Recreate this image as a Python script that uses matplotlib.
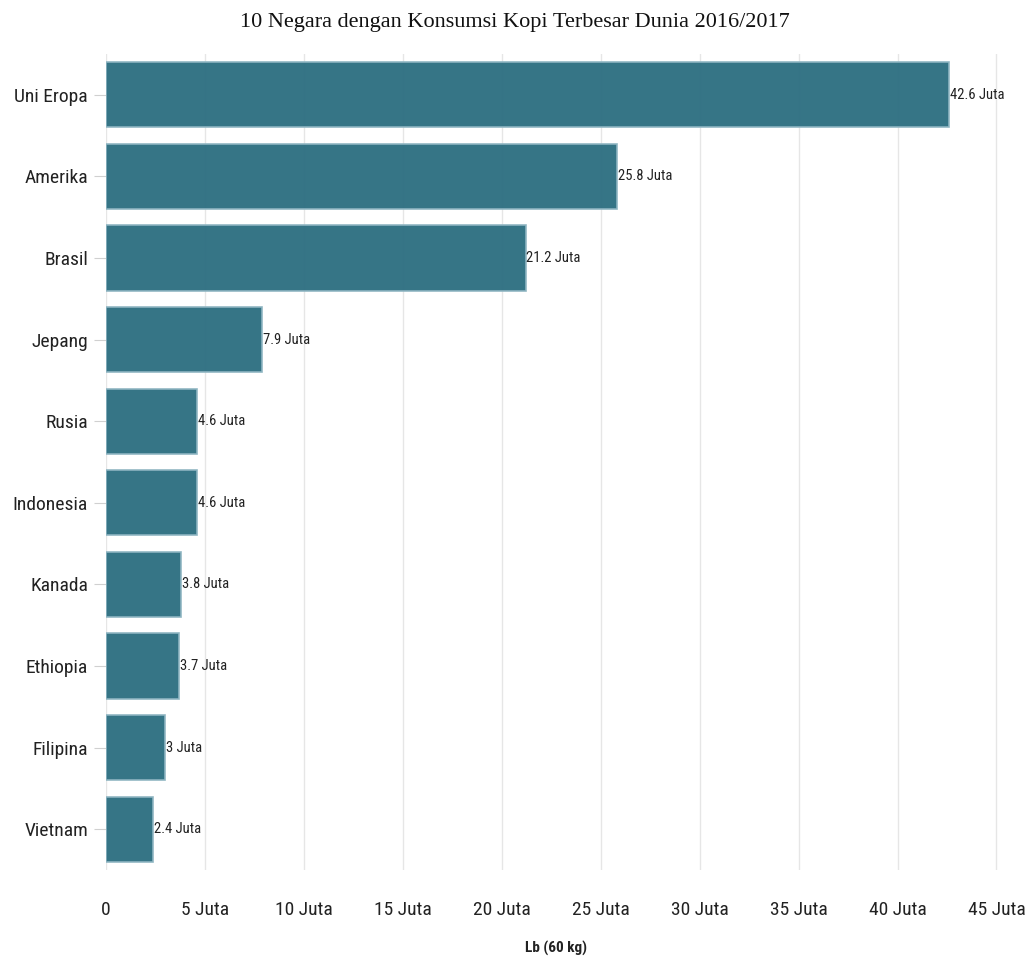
import matplotlib
matplotlib.use("Agg")
import matplotlib.pyplot as plt

countries = ["Uni Eropa", "Amerika", "Brasil", "Jepang", "Rusia", "Indonesia",
             "Kanada", "Ethiopia", "Filipina", "Vietnam"]
values = [42.6, 25.8, 21.2, 7.9, 4.6, 4.6, 3.8, 3.7, 3.0, 2.4]
value_labels = ["42.6 Juta", "25.8 Juta", "21.2 Juta", "7.9 Juta", "4.6 Juta",
                "4.6 Juta", "3.8 Juta", "3.7 Juta", "3 Juta", "2.4 Juta"]
xticks = [0, 5, 10, 15, 20, 25, 30, 35, 40, 45]
xtick_labels = ["0", "5 Juta", "10 Juta", "15 Juta", "20 Juta", "25 Juta",
                "30 Juta", "35 Juta", "40 Juta", "45 Juta"]

SANS = ["Roboto Condensed", "DejaVu Sans"]

fig = plt.figure(figsize=(10.29, 9.57), dpi=100)
ax = fig.add_axes([0.103, 0.0909, 0.875, 0.8527])

y = list(range(len(countries)))
ax.barh(y, values, height=0.8, color="#2f7082", edgecolor="#8fb5c2",
        linewidth=1.2, alpha=0.97, zorder=3)
for yi, v, lab in zip(y, values, value_labels):
    ax.text(v + 0.05, yi, lab, va="center", ha="left", fontsize=10.5,
            family=SANS, color="#222222", zorder=4)

ax.set_ylim(len(countries) - 0.5, -0.5)
ax.set_xlim(0, 45.5)
ax.set_yticks(y)
ax.set_yticklabels(countries, family=SANS, fontsize=14, color="#222222")
ax.set_xticks(xticks)
ax.set_xticklabels(xtick_labels, family=SANS, fontsize=14, color="#222222")
ax.tick_params(axis="x", length=0, pad=22)
ax.tick_params(axis="y", length=9, color="#d0d0d0", pad=4)
ax.grid(axis="x", color="#e6e6e6", linewidth=1, zorder=0)
for s in ax.spines.values():
    s.set_visible(False)

ax.set_xlabel("Lb (60 kg)", family=SANS, fontsize=11, fontweight="bold",
              color="#222222", labelpad=16)
fig.text(0.5, 0.977, "10 Negara dengan Konsumsi Kopi Terbesar Dunia 2016/2017",
         ha="center", va="center", family="Liberation Serif", fontsize=16,
         color="#111111")

fig.savefig("out.png", dpi=100)
